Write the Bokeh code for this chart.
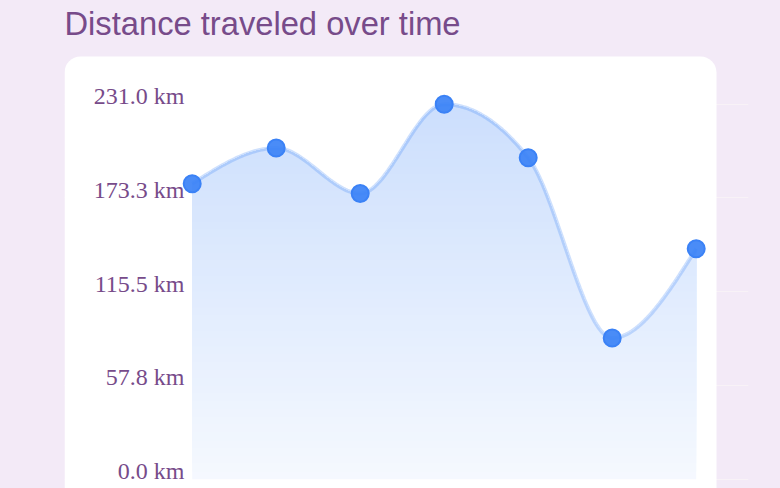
import numpy as np
from bokeh.plotting import figure
from bokeh.models import (Range1d, FixedTicker, PrintfTickFormatter, BoxAnnotation,
                          LinearAxis, Grid)
from bokeh.embed import file_html
from bokeh.resources import INLINE

# ---- data ----
steps = [0, 1, 2, 3, 4, 5, 6]
distance_km = [182, 204, 176, 231, 198, 87, 142]
tick_values = [0.0, 57.75, 115.5, 173.25, 231.0]
title_text = "Distance traveled over time"

BG = "#f3eaf7"
PURPLE = "#774b8a"
BLUE = "#3b82f6"

# ---- monotone-x curve (d3 curveMonotoneX style) ----
x = np.array(steps, dtype=float)
y = np.array(distance_km, dtype=float)
n = len(x)
h = np.diff(x)
s = np.diff(y) / h
t = np.zeros(n)
for i in range(1, n - 1):
    h0, h1 = h[i - 1], h[i]
    s0, s1 = s[i - 1], s[i]
    p_ = (s0 * h1 + s1 * h0) / (h0 + h1)
    t[i] = (np.sign(s0) + np.sign(s1)) * min(abs(s0), abs(s1), 0.5 * abs(p_))
t[0] = (3 * s[0] - t[1]) / 2
t[-1] = (3 * s[-1] - t[-2]) / 2

cx, cy = [], []
u = np.linspace(0, 1, 40)
for i in range(n - 1):
    dx = h[i] / 3
    P0 = (x[i], y[i])
    C0 = (x[i] + dx, y[i] + dx * t[i])
    C1 = (x[i + 1] - dx, y[i + 1] - dx * t[i + 1])
    P1 = (x[i + 1], y[i + 1])
    uu = u if i == 0 else u[1:]
    a = (1 - uu) ** 3
    b = 3 * (1 - uu) ** 2 * uu
    c = 3 * (1 - uu) * uu ** 2
    d = uu ** 3
    cx.extend(a * P0[0] + b * C0[0] + c * C1[0] + d * P1[0])
    cy.extend(a * P0[1] + b * C0[1] + c * C1[1] + d * P1[1])
cx = np.array(cx)
cy = np.array(cy)

# ---- scales (pixel layout) ----
W, H = 780, 488
frame_left, frame_right = 64, 748
frame_top, frame_bottom = 41, 488
x0_px, x_step_px = 191.7, 84.0
y0_px, y_px_per_km = 478.7, 375.0 / 231.0

x_start = -(x0_px - frame_left) / x_step_px
x_end = x_start + (frame_right - frame_left) / x_step_px
y_start = -(frame_bottom - y0_px) / y_px_per_km
y_end = y_start + (frame_bottom - frame_top) / y_px_per_km
lab_shift = 8.0 / y_px_per_km  # tick labels sit above their grid line

p = figure(width=W, height=H, output_backend="svg", toolbar_location=None,
           x_axis_location=None, y_axis_location=None,
           x_range=Range1d(x_start, x_end), y_range=Range1d(y_start, y_end),
           min_border_left=frame_left, min_border_right=W - frame_right,
           min_border_top=frame_top, min_border_bottom=0)
p.extra_y_ranges = {"labels": Range1d(y_start - lab_shift, y_end - lab_shift)}
p.border_fill_color = BG
p.background_fill_color = BG
p.outline_line_color = None
for r in list(p.center):
    if isinstance(r, Grid):
        r.visible = False

p.title.text = title_text
p.title.text_font = "Liberation Sans"
p.title.text_font_size = "32.7px"
p.title.text_font_style = "normal"
p.title.text_color = PURPLE
p.title.align = "left"
p.title.offset = 0
p.title.standoff = 0

# faint grid lines (visible only outside the card)
grid = Grid(dimension=1, ticker=FixedTicker(ticks=tick_values),
            grid_line_color="#f8f2f7", grid_line_width=1)
p.add_layout(grid)

# white card
card = BoxAnnotation(left=64, right=716, top=56, bottom=640,
                     left_units="canvas", right_units="canvas",
                     top_units="canvas", bottom_units="canvas",
                     fill_color="white", fill_alpha=1.0, line_color=None,
                     border_radius=16, level="underlay")
p.add_layout(card)

# y axis
ax = LinearAxis(y_range_name="labels", ticker=FixedTicker(ticks=tick_values),
                formatter=PrintfTickFormatter(format="%.1f km"))
ax.axis_line_color = None
ax.major_tick_line_color = None
ax.minor_tick_line_color = None
ax.major_label_standoff = -126
ax.major_label_text_font = "Liberation Serif"
ax.major_label_text_font_size = "24px"
ax.major_label_text_color = PURPLE
p.add_layout(ax, "left")

# gradient area (stacked bands)
ymax = max(distance_km)
N = 48
blue_rgb = np.array([59, 130, 246])
for k in range(N):
    lo = ymax * k / N
    tt = (k + 0.5) / N
    alpha = 0.05 + 0.21 * tt
    rgb = (255 * (1 - alpha) + blue_rgb * alpha).round().astype(int)
    col = "#%02x%02x%02x" % tuple(rgb)
    p.varea(x=cx, y1=np.minimum(cy, lo), y2=cy, fill_color=col, fill_alpha=1.0)

p.line(cx, cy, line_color=BLUE, line_alpha=0.25, line_width=4)
p.scatter(steps, distance_km, size=17, fill_color=BLUE, fill_alpha=0.92,
          line_color=BLUE, line_width=2)

html = file_html(p, INLINE)
html = html.replace("</head>", "<style>html,body{background:%s;}</style></head>" % BG, 1)
open("out.html", "w").write(html)
